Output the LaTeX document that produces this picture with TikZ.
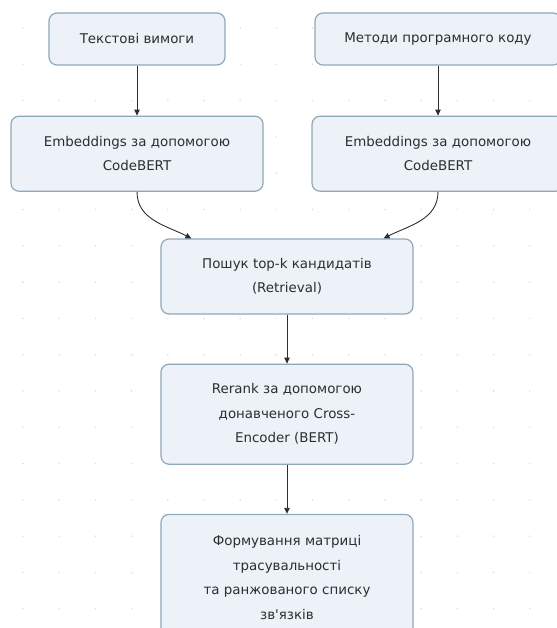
\documentclass[tikz,border=0pt]{standalone}
\usepackage{fontspec}
\setmainfont{DejaVu Sans}
\usepackage{xcolor}
\usepackage{tikz}
\usetikzlibrary{arrows.meta, positioning}
\definecolor{boxline}{RGB}{143, 168, 186}
\definecolor{boxfill}{RGB}{237, 242, 248}
\definecolor{textgray}{RGB}{45, 45, 45}
\definecolor{dotgray}{RGB}{222, 222, 222}

\begin{document}
\begin{tikzpicture}[x=1pt, y=-1pt,
				stage/.style={draw=boxline, line width=1.2pt, fill=boxfill, rounded corners=8pt, align=center, text=textgray, font=\fontsize{13.4}{24.5}\selectfont, minimum width=252pt, minimum height=75pt, inner sep=0pt},
				arrow/.style={-{Triangle[length=6pt, width=5.5pt]}, textgray, line width=0.9pt}
			]
			\useasboundingbox (0,0) rectangle (556,628);

			% Background dots
			\foreach \i in {0,...,14} {
				\foreach \j in {0,...,16} {
					\fill[dotgray] (23+36.2*\i, 28+36.3*\j) circle (0.9pt);
				}
			}

			% Nodes
			\node[stage, minimum width=176pt, minimum height=52pt] (req) at (137,39) {Текстові вимоги};

			\node[stage, minimum width=246pt, minimum height=52pt] (code) at (438,39) {Методи програмного коду};

			\node[stage, below=50pt of req] (embreq) {Embeddings за допомогою\\ CodeBERT};

			\node[stage, below=50pt of code] (embcode) {Embeddings за допомогою\\ CodeBERT};

			\node[stage] (retrieval) at (287,276.5) {Пошук top-k кандидатів\\ (Retrieval)};

			\node[stage, minimum height=100pt, below=49pt of retrieval] (rerank) {Rerank за допомогою\\ донавченого Cross-\\ Encoder (BERT)};

			\node[stage, minimum height=126pt, below=49pt of rerank] (matrix) {Формування матриці\\ трасувальності\\ та ранжованого списку\\ зв\textquotesingle язків};

			% Arrows
			\draw[arrow] (req) -- (embreq);
			\draw[arrow] (code) -- (embcode);
			\draw[arrow] (embreq.south) to[out=-90, in=153] ([xshift=31pt]retrieval.north west);
			\draw[arrow] (embcode.south) to[out=-90, in=27] ([xshift=-30pt]retrieval.north east);
			\draw[arrow] (retrieval) -- (rerank);
			\draw[arrow] (rerank) -- (matrix);

		\end{tikzpicture}
\end{document}
